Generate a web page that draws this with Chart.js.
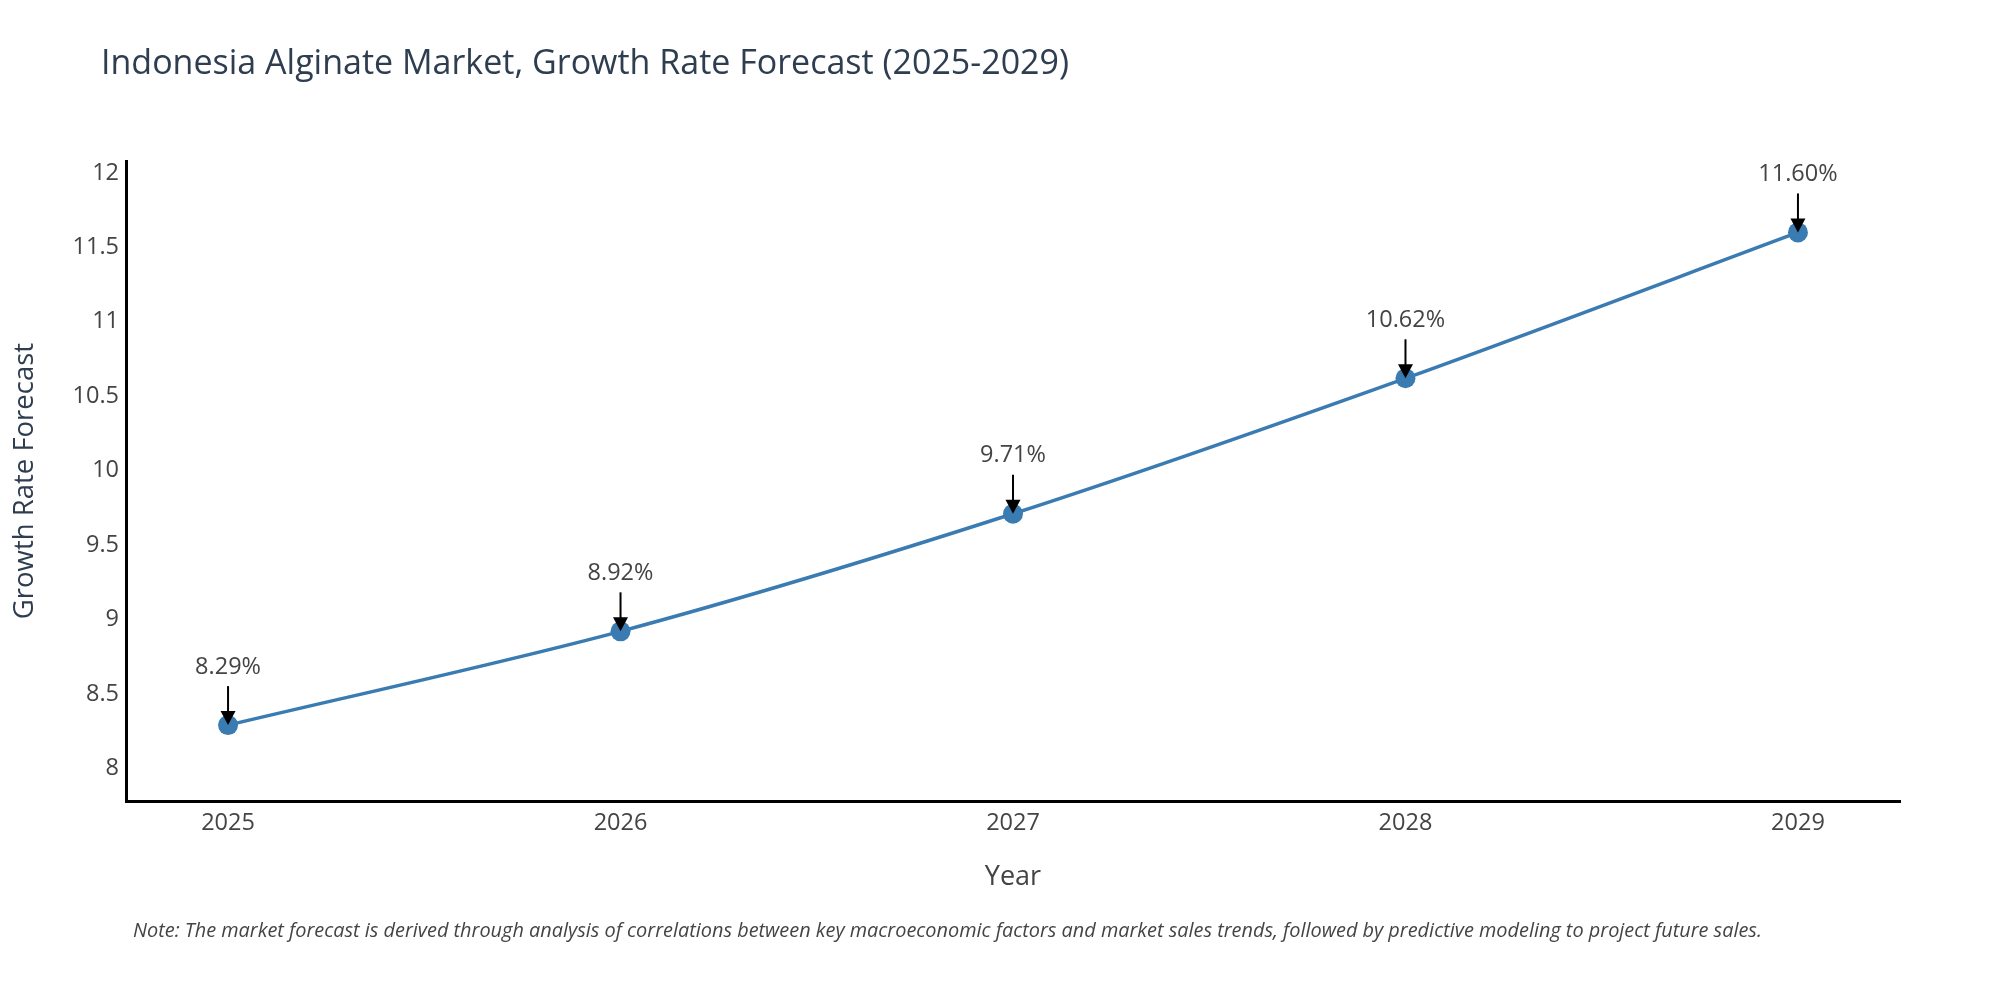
<!DOCTYPE html>
<html>
<head>
<meta charset="utf-8">
<script src="https://cdn.jsdelivr.net/npm/chart.js@4"></script>
<style>
  html, body { margin: 0; padding: 0; background: #fff; }
  #wrap { position: relative; width: 2000px; height: 1000px; font-family: "Open Sans", sans-serif; }
  #chart { position: absolute; left: 0; top: 0; }
  #title { position: absolute; left: 101px; top: 44px; font-size: 34px; color: #2e3d50; white-space: nowrap; line-height: 1; }
  #note { position: absolute; left: 133px; top: 918px; font-size: 19.9px; font-style: italic; color: #444; white-space: nowrap; line-height: 1.2; }
</style>
</head>
<body>
<div id="wrap">
  <canvas id="chart" width="2000" height="1000"></canvas>
  <div id="title">Indonesia Alginate Market, Growth Rate Forecast (2025-2029)</div>
  <div id="note">Note: The market forecast is derived through analysis of correlations between key macroeconomic factors and market sales trends, followed by predictive modeling to project future sales.</div>
</div>
<script>
const years  = [2025, 2026, 2027, 2028, 2029];
const growth = [8.29, 8.92, 9.71, 10.62, 11.60];
const yTicks = [8, 8.5, 9, 9.5, 10, 10.5, 11, 11.5, 12];

const lineColor = '#3a7bb2';
const textColor = '#444';
const font = 'Open Sans';

// arrows + value labels above each point
const arrowLabels = {
  id: 'arrowLabels',
  afterDatasetsDraw(chart) {
    const ctx = chart.ctx;
    const pts = chart.getDatasetMeta(0).data;
    ctx.save();
    pts.forEach((p, i) => {
      const x = p.x, y = p.y;
      ctx.strokeStyle = '#000';
      ctx.fillStyle = '#000';
      ctx.lineWidth = 2;
      ctx.beginPath();
      ctx.moveTo(x, y - 39);
      ctx.lineTo(x, y - 10);
      ctx.stroke();
      ctx.beginPath();
      ctx.moveTo(x - 7.5, y - 14);
      ctx.lineTo(x + 7.5, y - 14);
      ctx.lineTo(x, y);
      ctx.closePath();
      ctx.fill();
      ctx.fillStyle = textColor;
      ctx.font = `23.5px "${font}"`;
      ctx.textAlign = 'center';
      ctx.textBaseline = 'middle';
      ctx.fillText(growth[i].toFixed(2) + '%', x, y - 58);
    });
    ctx.restore();
  }
};

new Chart(document.getElementById('chart'), {
  type: 'line',
  data: {
    datasets: [{
      data: years.map((yr, i) => ({ x: yr, y: growth[i] })),
      borderColor: lineColor,
      backgroundColor: lineColor,
      borderWidth: 3.5,
      pointRadius: 10,
      pointHoverRadius: 10,
      pointBorderWidth: 0,
      tension: 0.3
    }]
  },
  options: {
    responsive: false,
    devicePixelRatio: 1,
    animation: false,
    layout: { padding: { left: 0, top: 161, right: 100, bottom: 0 } },
    plugins: { legend: { display: false }, tooltip: { enabled: false } },
    scales: {
      x: {
        type: 'linear',
        min: 2024.74, max: 2029.26,
        afterFit: s => { s.height = 199; },
        afterBuildTicks: s => { s.ticks = years.map(v => ({ value: v })); },
        grid: { display: false, drawTicks: false },
        border: { display: true, color: '#000', width: 3 },
        ticks: { color: textColor, font: { family: font, size: 23.5 }, padding: 8, callback: v => String(v) },
        title: { display: true, text: 'Year', color: textColor, font: { family: font, size: 27 }, padding: { top: 0, bottom: 106 } }
      },
      y: {
        min: 7.78, max: 12.08,
        afterFit: s => { s.width = 126; },
        afterBuildTicks: s => { s.ticks = yTicks.map(v => ({ value: v })); },
        grid: { display: false, drawTicks: false },
        border: { display: true, color: '#000', width: 3 },
        ticks: { color: textColor, font: { family: font, size: 23.5 }, padding: 7, callback: v => String(v) },
        title: { display: true, text: 'Growth Rate Forecast', color: '#2e3d50', font: { family: font, size: 27.5 }, padding: { top: 9, bottom: 0 } }
      }
    }
  },
  plugins: [arrowLabels]
});
</script>
</body>
</html>
